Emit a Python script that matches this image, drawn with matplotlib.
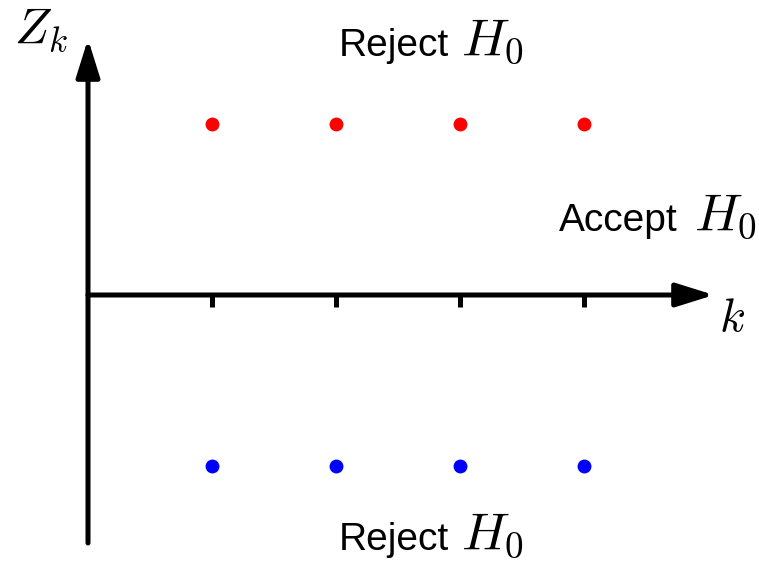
import numpy as np
import matplotlib
matplotlib.use("Agg")
import matplotlib.pyplot as plt

plt.rcParams['font.family'] = ['Liberation Sans', 'DejaVu Sans']
plt.rcParams['mathtext.fontset'] = 'cm'

# data
k_steps = [1, 2, 3, 4]
upper_bound = [1.0, 1.0, 1.0, 1.0]
lower_bound = [-1.0, -1.0, -1.0, -1.0]
region_words = ["Reject", "Accept", "Reject"]
hyp = r"$H_0$"

# pixel scale: 124 px per step in k, 171 px per unit in Z, origin at (88, 295)
X0, Y0, SX, SY = 88, 295, 124, 171
def px(x):
    return (x - X0) / SX
def py(y):
    return (Y0 - y) / SY

fig = plt.figure(figsize=(7.59, 5.64), dpi=100)
ax = fig.add_axes([0, 0, 1, 1])
ax.set_xlim(px(0), px(759))
ax.set_ylim(py(564), py(0))
ax.axis("off")

lw = 3.6
arrow = dict(arrowstyle="-|>,head_length=1.15,head_width=0.36", lw=lw, color="k",
             shrinkA=0, shrinkB=0, mutation_scale=20)
# k axis
ax.annotate("", xy=(px(714), 0), xytext=(0, 0), arrowprops=arrow)
# Z axis
ax.annotate("", xy=(0, py(39)), xytext=(0, py(543)), arrowprops=arrow)

# ticks
ax.vlines(k_steps, py(307), 0, colors="k", lw=lw)

# bounds
ax.plot(k_steps, upper_bound, "o", color="red", ms=10, mec="none")
ax.plot(k_steps, lower_bound, "o", color="blue", ms=10, mec="none")

fs, mfs = 28, 38
# top reject
ax.text(px(339), py(56), region_words[0], fontsize=fs, ha="left", va="baseline")
ax.text(px(461), py(55), hyp, fontsize=mfs, ha="left", va="baseline")
# accept
ax.text(px(559), py(231), region_words[1], fontsize=fs, ha="left", va="baseline")
ax.text(px(757), py(230), hyp, fontsize=mfs, ha="right", va="baseline")
# bottom reject
ax.text(px(339), py(550), region_words[2], fontsize=fs, ha="left", va="baseline")
ax.text(px(461), py(549), hyp, fontsize=mfs, ha="left", va="baseline")

ax.text(px(14), py(43), r"$Z_k$", fontsize=36, ha="left", va="baseline")
ax.text(px(719), py(331), r"$k$", fontsize=34, ha="left", va="baseline")

fig.savefig("out.png", dpi=100)
